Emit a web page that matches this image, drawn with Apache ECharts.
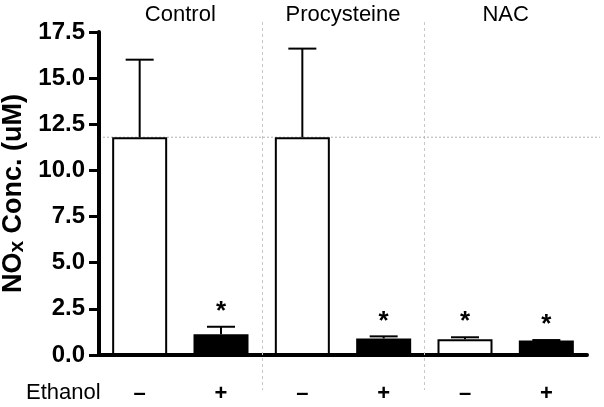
<!DOCTYPE html>
<html>
<head>
<meta charset="utf-8">
<script src="https://cdn.jsdelivr.net/npm/echarts@6/dist/echarts.min.js"></script>
<style>
html,body{margin:0;padding:0;background:#fff;}
#chart{width:604px;height:407px;}
</style>
</head>
<body>
<div id="chart"></div>
<script>
// ---- data ----
var groups = ['Control', 'Procysteine', 'NAC'];
var ethanol = ['–', '+', '–', '+', '–', '+'];
var means = [11.8, 1.12, 11.8, 0.90, 0.85, 0.78];
var sem = [4.2, 0.41, 4.8, 0.11, 0.11, 0.03];
var significant = [false, true, false, true, true, true];
var refValue = 11.8;
// separators sit between these pairs of category indexes
var separators = [[1, 2], [3, 4]];

var FONT = '"Liberation Sans", Arial, Helvetica, sans-serif';
var chart = echarts.init(document.getElementById('chart'), null, {renderer: 'canvas'});

var barData = means.map(function (v, i) {
  var treated = ethanol[i] === '+';
  return {
    value: v,
    itemStyle: {
      color: treated ? '#000' : '#fff',
      borderColor: '#000',
      borderWidth: treated ? 0 : 2
    }
  };
});
var errData = means.map(function (v, i) { return [i, v, v + sem[i], significant[i] ? 1 : 0]; });

var option = {
  animation: false,
  backgroundColor: '#fff',
  grid: {left: 99, right: 17, top: 32, bottom: 52, containLabel: false, outerBoundsMode: 'none'},
  xAxis: [{
    type: 'category',
    data: ethanol,
    axisLine: {lineStyle: {color: '#000', width: 4}},
    axisTick: {show: false},
    axisLabel: {color: '#000', fontFamily: FONT, fontSize: 22, fontWeight: 'bold', margin: 28}
  }, {
    type: 'category',
    position: 'top',
    data: groups,
    axisLine: {show: false},
    axisTick: {show: false},
    axisLabel: {color: '#000', fontFamily: FONT, fontSize: 22, margin: 6}
  }],
  yAxis: {
    type: 'value',
    min: 0, max: 17.5, interval: 2.5,
    name: '{a|NO}{b|x}{a| Conc. (uM)}',
    nameLocation: 'middle',
    nameRotate: 90,
    nameGap: 67,
    nameTextStyle: {
      rich: {
        a: {fontFamily: FONT, fontSize: 27, fontWeight: 'bold', color: '#000'},
        b: {fontFamily: FONT, fontSize: 21, fontWeight: 'bold', color: '#000', verticalAlign: 'bottom', padding: [6, 0, 0, 0]}
      }
    },
    axisLine: {show: true, lineStyle: {color: '#000', width: 4}},
    axisTick: {show: true, length: 10, lineStyle: {color: '#000', width: 3}},
    splitLine: {show: false},
    axisLabel: {
      color: '#000', fontFamily: FONT, fontSize: 24, fontWeight: 'bold', margin: 14,
      formatter: function (v) { return v.toFixed(1); }
    }
  },
  series: [
    {
      type: 'custom',
      name: 'sep',
      clip: false,
      z: 1,
      encode: {x: 0, y: 1},
      data: separators,
      renderItem: function (params, api) {
        var p1 = api.coord([api.value(0), 0]);
        var p2 = api.coord([api.value(1), 0]);
        var x = Math.round((p1[0] + p2[0]) / 2) + 0.5;
        var top = api.coord([0, 17.5])[1];
        return {
          type: 'line',
          shape: {x1: x, y1: top - 10, x2: x, y2: p1[1] + 35},
          style: {stroke: '#c8c8c8', lineWidth: 1, lineDash: [3, 3]}
        };
      }
    },
    {
      type: 'custom',
      name: 'ref',
      clip: false,
      z: 1,
      data: [[0, refValue]],
      renderItem: function (params, api) {
        var p = api.coord([0, api.value(1)]);
        var bw = api.size([1, 0])[0];
        var x0 = p[0] - bw / 2 + 4;
        return {
          type: 'line',
          shape: {x1: x0, y1: p[1], x2: 600, y2: p[1]},
          style: {stroke: '#b0b0b0', lineWidth: 1, lineDash: [2, 2]}
        };
      }
    },
    {
      type: 'bar',
      data: barData,
      barWidth: 55,
      z: 3
    },
    {
      type: 'custom',
      name: 'err',
      clip: false,
      z: 4,
      data: errData,
      renderItem: function (params, api) {
        var i = api.value(0);
        var pm = api.coord([i, api.value(1)]);
        var pu = api.coord([i, api.value(2)]);
        var hw = 14;
        var children = [
          {type: 'line', shape: {x1: pm[0], y1: pm[1], x2: pu[0], y2: pu[1]}, style: {stroke: '#000', lineWidth: 2}},
          {type: 'line', shape: {x1: pu[0] - hw, y1: pu[1], x2: pu[0] + hw, y2: pu[1]}, style: {stroke: '#000', lineWidth: 2}}
        ];
        if (api.value(3)) {
          children.push({
            type: 'text',
            style: {text: '*', x: pu[0], y: pu[1] - 15, align: 'center', verticalAlign: 'middle',
                    fontFamily: FONT, fontSize: 26, fontWeight: 'bold', fill: '#000'}
          });
        }
        return {type: 'group', children: children};
      }
    }
  ],
  graphic: [{
    type: 'text',
    left: 26, top: 382,
    style: {text: 'Ethanol', fontFamily: FONT, fontSize: 22, fill: '#000'}
  }]
};
chart.setOption(option);
</script>
</body>
</html>
